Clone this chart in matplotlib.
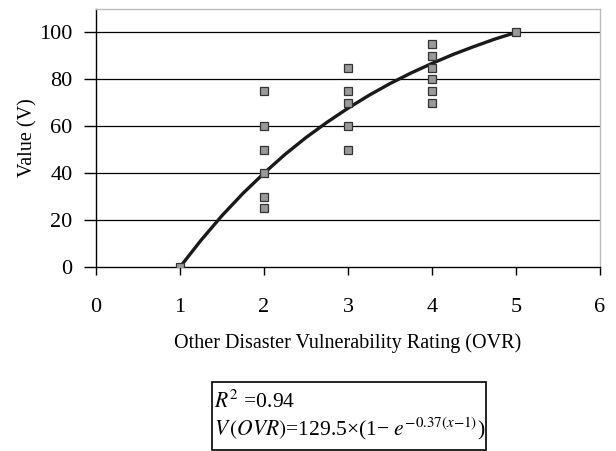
import matplotlib
matplotlib.use("Agg")
import matplotlib.pyplot as plt
from matplotlib.patches import Rectangle

# Observed data (OVR rating vs value)
x_obs = [1, 2, 2, 2, 2, 2, 2, 3, 3, 3, 3, 3, 4, 4, 4, 4, 4, 4, 5]
v_obs = [0, 75, 60, 50, 40, 30, 25, 85, 75, 70, 60, 50, 95, 90, 85, 80, 75, 70, 100]

# Fitted curve, values
x_fit = [1.0, 1.25, 1.5, 1.75, 2.0, 2.25, 2.5, 2.75, 3.0, 3.25, 3.5, 3.75, 4.0, 4.25, 4.5, 4.75, 5.0]
v_fit = [0.0, 11.4, 21.9, 31.4, 40.0, 48.0, 55.2, 61.7, 67.7, 73.2, 78.2, 82.7, 86.8, 90.6, 94.0, 97.2, 100.0]

x_ticks = [0, 1, 2, 3, 4, 5, 6]
y_ticks = [0, 20, 40, 60, 80, 100]

plt.rcParams['font.family'] = ['Liberation Serif', 'DejaVu Serif']
plt.rcParams['mathtext.fontset'] = 'stix'

W, H = 616, 451
fig = plt.figure(figsize=(W/100, H/100), dpi=100)
ax = fig.add_axes([96/W, 1 - 267/H, (600-96)/W, (267-9)/H])

ax.set_xlim(0, 6)
ax.set_ylim(0, 110)
ax.set_xticks(x_ticks)
ax.set_yticks(y_ticks)
ax.set_xticklabels([str(t) for t in x_ticks])
ax.set_yticklabels([str(t) for t in y_ticks])

for y in y_ticks[1:]:
    ax.axhline(y, color='black', lw=0.9, zorder=1)

ax.plot(x_fit, v_fit, color='#1a1a1a', lw=2.4, zorder=2)
ax.plot(x_obs, v_obs, linestyle='none', marker='s', ms=6,
        markerfacecolor='#999999', markeredgecolor='#333333', markeredgewidth=0.9, zorder=3)

for s in ['top', 'right']:
    ax.spines[s].set_color('#bbbbbb')
    ax.spines[s].set_linewidth(1.0)
for s in ['left', 'bottom']:
    ax.spines[s].set_color('black')
    ax.spines[s].set_linewidth(1.0)

ax.tick_params(axis='x', direction='out', length=6, width=1, pad=16, labelsize=16)
ax.tick_params(axis='y', direction='out', length=9, width=1, pad=8, labelsize=16)

ax.set_xlabel('Other Disaster Vulnerability Rating (OVR)', fontsize=14.5, labelpad=12)
ax.set_ylabel('Value (V)', fontsize=14.5, labelpad=1)

# Equation box
fig.add_artist(Rectangle((212/W, 1 - 450/H), (486-212)/W, (450-382)/H,
                         transform=fig.transFigure, facecolor='white',
                         edgecolor='black', lw=1.2))
fig.text(214/W, 1 - 402/H, "$R^2$ =0.94", fontsize=15.5, ha='left', va='center')
fig.text(214/W, 1 - 429/H, "$V\\,(OVR)$=129.5\u00d7(1\u2212 $e^{-0.37(x{-}1)}$)",
         fontsize=15.5, ha='left', va='center')

fig.savefig('out.png', dpi=100)
